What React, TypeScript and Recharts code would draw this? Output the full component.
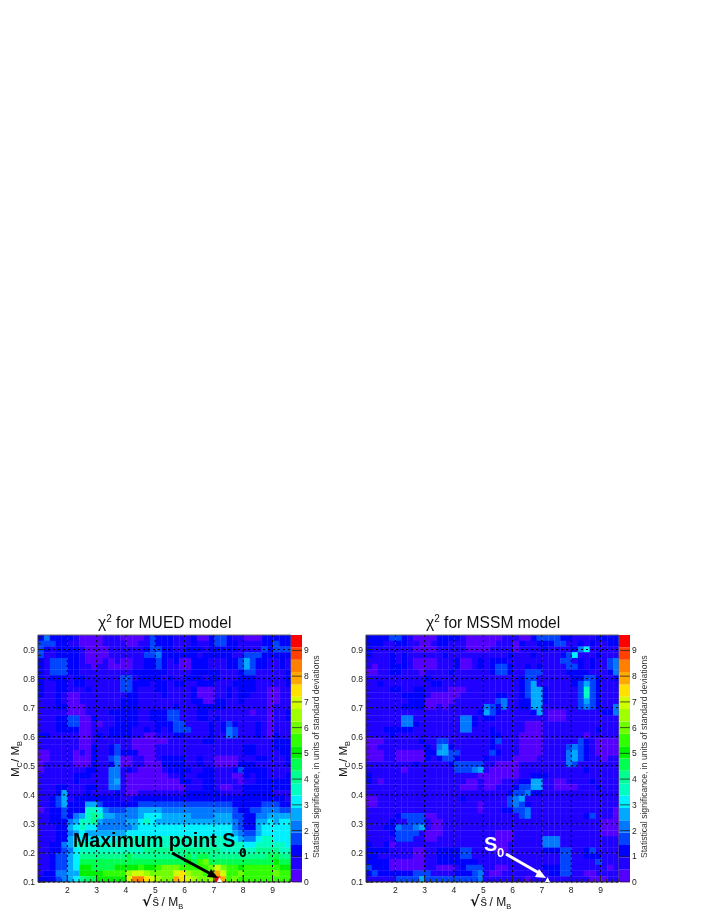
import { Bar, BarChart, ReferenceLine, Scatter, ScatterChart, XAxis, YAxis } from 'recharts'

const font = 'Liberation Sans'

// colour bands of the z scale, one per contour level
const bandColors = [
  '#5400ff', '#2000ff', '#0000ff', '#0044ff', '#0078ff', '#00a8ff', '#00f0ff', '#00ffc0', '#00ff90', '#00ff50',
  '#00f000', '#30ff00', '#70ff00', '#a0ff00', '#d0ff00', '#ffe000', '#ffa800', '#ff8000', '#ff4000', '#ff0000'
]
const bandStep = 0.48
const zTicks = [0, 1, 2, 3, 4, 5, 6, 7, 8, 9]

// contour level of each bin (base 36), top row first, 43 x 43
const muedLevels = [
  '2422221000011100001322211120023321100022222',
  '3332211000011110011322211121123322111122322',
  '3212222100001111112332211222122222111132333',
  '3112222100001111113342222221222221133322222',
  '2133322100010100112232120022211122353221121',
  '2133322110110000112232110022211122353221121',
  '2133322111111111222222111122222111233111112',
  '2122212211111133122221211222122111222111112',
  '2112212211111133222122122112221112222111112',
  '2112211121111133211122111120001121222110011',
  '2112100111111112211112111120001121221110011',
  '1112100111111122211111111122002211211110011',
  '1112200011111122211111121112222211111110111',
  '1111100011112222211222331112211111110110112',
  '1112233002111222211222331112212111111110112',
  '1112233001011222211122233111121232111210111',
  '1112222001112222112121233311121243111210111',
  '2211111001212222110011122111121143111210211',
  '1111111001111111000000111111221111111111222',
  '1111111002112311000011111111111111122111222',
  '0011110102112322200011111111111111122111122',
  '0011110002113400110012222112110000111221112',
  '0111110002112400110002222112110000222111112',
  '0111111122114412100001222211221112322221111',
  '1111112221114410000000112112221110021221112',
  '1111112111114510000000002211221111011222222',
  '1112211122114410000000000111221001122222222',
  '1112511121111210011111111222222111122222111',
  '1123512222222211222222222222222222222222221',
  '1123522255322222233333333333333332222233322',
  '0122322277643334455554444444444443223344433',
  '1122324578755444456665555544445553322445555',
  '1122245778544445567655555555555554322556566',
  '1112256766444444566666666666666664322566666',
  '1112245655555556666666666666666665433566666',
  '1112256666666677777777777777777766544677666',
  '1122457777777777777777777777777777766777776',
  '1122346777777777778888888888888777777888877',
  '1123356888888889888888888989988888888889988',
  '1123356999999999999999999a9bc99999999999a99',
  '1123356aa9999aaaabaabcccbbbbbcecbbabbbbbbaa',
  '1224455aaaabbbbdeedccccefdccbdgebbcbbbbbcbb',
  '2223456899aaaaaehhfedccgfedccdjgbcbbbbbbbbb'
]

const mssmLevels = [
  '2222332100002222100000011100233332211112222',
  '2221122110012211100000111021122233112121122',
  '2111111100001111100001111011112111124611111',
  '2111212111111211111111112111211112361112111',
  '1111212100001112001212221111111113312121134',
  '1011222100001112001212332112121111332121134',
  '0011221110111121111112332113331111222211124',
  '1111111111211111111111111123311111122332112',
  '1121111111122111111111111123511111123532111',
  '1111221122111100011111111123552111113732111',
  '1111112222100000111111221123552111113732111',
  '1111111222000001111111341122552111113532111',
  '1111112222001011111143241122551111113432114',
  '1111111111111111111253211111251000111111224',
  '1111114411111111442122111111111000111111111',
  '1111114421111111442111111110001111111111111',
  '1112222211111111441112111110001111111112111',
  '1111211111111111111112211100001111111011111',
  '0001111112113311111112311100001111113210000',
  '0011111111214521111112111100001111343210000',
  '0001100000225533111113211100001111453210000',
  '0001100000212332111121111000011111453211011',
  '1111111121111123333311000011111111431111111',
  '1111110111111113334510000011111111111211111',
  '2111111111111111111000000011222111111111111',
  '2101111111111111100100011122551100111121111',
  '1111111111111111000100111233551100001112111',
  '1111111111111111111111112334221111111111111',
  '0011111111111111211111113451111111111111111',
  '0011111111111111111011113432111111111111111',
  '1111111111111111111011122334111111111111110',
  '1111123333001111111111111134111111111231110',
  '1111211333100111111111111111111111111111000',
  '1112243345100111111111111111111111111111000',
  '1111233331000111111111000111111111111111000',
  '1111133311001111111111000111114441111111111',
  '2112011111111111111111001111114441111111111',
  '2222111100112222331111001111112223311231111',
  '2211111100112222331111111111111113311222111',
  '2222000000112222222111111111111113311113111',
  '3222000000110001233311001111112223311111101',
  '2322222233311112223410011111101223311001111',
  '1111133335333333333411111110111111111100011'
]

const binsX = 43
const binsY = 43
const xMin = 1
const xMax = 9.63
const yMin = 0.1
const yMax = 0.95
const zMax = 9.6

const plotW = 253
const plotH = 247

const xTicks = Array.from({ length: 43 }, (_, i) => Number((1.2 + i * 0.2).toFixed(1))).filter((v) => v < xMax)
const yTicks = Array.from({ length: 43 }, (_, i) => Number((0.1 + i * 0.02).toFixed(2))).filter((v) => v < yMax)
const xGrid = [2, 3, 4, 5, 6, 7, 8, 9]
const yGrid = [0.1, 0.2, 0.3, 0.4, 0.5, 0.6, 0.7, 0.8, 0.9]

const toCells = (rows: string[]) => {
  const out: { x: number; y: number; level: number }[] = []
  rows.forEach((row, r) => {
    for (let c = 0; c < binsX; c++) {
      out.push({
        x: xMin + ((xMax - xMin) / binsX) * (c + 0.5),
        y: yMax - ((yMax - yMin) / binsY) * (r + 0.5),
        level: parseInt(row[c] ?? row[row.length - 1], 36)
      })
    }
  })
  return out
}

const XTick = ({ x, y, payload }: any) => {
  const v = payload.value
  const major = Math.abs(v - Math.round(v)) < 1e-6
  return (
    <g>
      <line x1={x} x2={x} y1={y} y2={y - (major ? 7 : 3)} stroke="#222" />
      {major && (
        <text x={x} y={y + 11} textAnchor="middle" fontSize={8.5} fontFamily={font} fill="#222">
          {v}
        </text>
      )}
    </g>
  )
}

const YTick = ({ x, y, payload }: any) => {
  const v = payload.value
  const major = Math.abs(v * 10 - Math.round(v * 10)) < 1e-6
  return (
    <g>
      <line x1={x} x2={x + (major ? 7 : 3)} y1={y} y2={y} stroke="#222" />
      {major && (
        <text x={x - 3} y={y + 3} textAnchor="end" fontSize={8.5} fontFamily={font} fill="#222">
          {v.toFixed(1)}
        </text>
      )}
    </g>
  )
}

const ZTick = ({ x, y, payload }: any) => (
  <g>
    <line x1={x - 10} x2={x} y1={y} y2={y} stroke="#222" strokeOpacity={0.75} />
    <text x={x + 2} y={y + 3} fontSize={8.5} fontFamily={font} fill="#222">
      {payload.value}
    </text>
  </g>
)

const CellShape = (p: any) => {
  const w = plotW / binsX
  const h = plotH / binsY
  return <rect x={p.cx - w / 2} y={p.cy - h / 2} width={w + 0.3} height={h + 0.3} fill={bandColors[p.payload.level]} />
}

function Panel({ left, rows }: { left: number; rows: string[] }) {
  const cells = toCells(rows)
  const bandRow = [Object.fromEntries(bandColors.map((_, i) => ['b' + i, bandStep]))]
  const box = { position: 'absolute', left, top: 620 } as const
  return (
    <>
      <div style={box}>
        <ScatterChart width={plotW + 38} height={plotH + 50} margin={{ left: 38, top: 15, right: 0, bottom: 35 }}>
          <XAxis type="number" dataKey="x" domain={[xMin, xMax]} hide allowDataOverflow />
          <YAxis type="number" dataKey="y" domain={[yMin, yMax]} hide allowDataOverflow />
          <Scatter data={cells} dataKey="y" shape={CellShape} isAnimationActive={false} />
        </ScatterChart>
      </div>
      {/* axes and grid sit in a second chart so they stay above the cells */}
      <div style={box}>
        <ScatterChart width={plotW + 38} height={plotH + 50} margin={{ left: 0, top: 15, right: 0, bottom: 0 }}>
          <XAxis
            type="number"
            dataKey="x"
            domain={[xMin, xMax]}
            ticks={xTicks}
            interval={0}
            height={35}
            tickSize={0}
            tickMargin={0}
            tick={<XTick />}
            stroke="#333"
            allowDataOverflow
          />
          <YAxis
            type="number"
            dataKey="y"
            domain={[yMin, yMax]}
            ticks={yTicks}
            interval={0}
            width={38}
            tickSize={0}
            tickMargin={0}
            tick={<YTick />}
            stroke="#333"
            allowDataOverflow
          />
          <Scatter data={[]} isAnimationActive={false} />
          {xGrid.map((v) => (
            <ReferenceLine key={v} x={v} stroke="#000" strokeDasharray="2 3" />
          ))}
          {yGrid.map((v) => (
            <ReferenceLine key={v} y={v} stroke="#000" strokeDasharray="2 3" />
          ))}
          <ReferenceLine y={yMax} stroke="#666" />
          <ReferenceLine x={xMax} stroke="#666" />
        </ScatterChart>
      </div>
      <div style={{ position: 'absolute', left: left + 291, top: 620 }}>
        <BarChart
          width={40}
          height={plotH + 50}
          data={bandRow}
          barCategoryGap={0}
          margin={{ left: 0, top: 15, right: 0, bottom: 35 }}
        >
          <XAxis hide />
          {bandColors.map((c, i) => (
            <Bar key={i} dataKey={'b' + i} stackId="z" fill={c} isAnimationActive={false} />
          ))}
          <YAxis
            orientation="right"
            type="number"
            domain={[0, zMax]}
            ticks={zTicks}
            interval={0}
            width={29}
            tickSize={0}
            tickMargin={0}
            tick={<ZTick />}
            axisLine={false}
            allowDataOverflow
          />
        </BarChart>
      </div>
    </>
  )
}

function PanelText({ dx, title }: { dx: number; title: string }) {
  return (
    <g fontFamily={font} fill="#111">
      <text x={dx + 98} y={628} fontSize={15.6}>
        {'\u03c7'}
        <tspan fontSize={10} dy={-6}>
          2
        </tspan>
        <tspan dy={6}> {title}</tspan>
      </text>
      <g transform={`translate(${dx + 19},777) rotate(-90)`} fontSize={11.5}>
        <text>
          M
          <tspan fontSize={7.5} dy={3}>
            C
          </tspan>
          <tspan dy={-3}>/ M</tspan>
          <tspan fontSize={7.5} dy={3}>
            B
          </tspan>
        </text>
      </g>
      <text x={dx + 142} y={906} fontFamily="DejaVu Sans" fontWeight="bold" fontSize={14.5}>
        {'\u221a'}
      </text>
      <text x={dx + 152.5} y={906} fontSize={13}>
        {'\u015d'}
      </text>
      <text x={dx + 161.5} y={906} fontSize={12}>
        / M
        <tspan fontSize={7.5} dy={3}>
          B
        </tspan>
      </text>
      <g transform={`translate(${dx + 319},858) rotate(-90)`} fontSize={8.6} fill="#333">
        <text>Statistical significance, in units of standard deviations</text>
      </g>
    </g>
  )
}

export default function App() {
  return (
    <div style={{ position: 'absolute', left: 0, top: 0, width: 708, height: 917, background: '#fff', filter: 'blur(0.4px)' }}>
      <Panel left={0} rows={muedLevels} />
      <Panel left={328} rows={mssmLevels} />
      <svg width={708} height={917} style={{ position: 'absolute', left: 0, top: 0, pointerEvents: 'none' }}>
        <PanelText dx={0} title="for MUED model" />
        <PanelText dx={328} title="for MSSM model" />
        <text x={73} y={847} fontFamily={font} fontWeight="bold" fontSize={19.6} fill="#000">
          Maximum point S
        </text>
        <text x={239} y={857} fontFamily="DejaVu Sans Mono" fontWeight="bold" fontSize={13} fill="#000">
          0
        </text>
        <line x1={172} y1={853} x2={211} y2={874} stroke="#000" strokeWidth={3} />
        <polygon points="218,878 207,877 211,869" fill="#000" />
        <polygon points="219.5,877 217,882 222,882" fill="#fff" />
        <text x={484} y={851} fontFamily={font} fontWeight="bold" fontSize={20} fill="#fff">
          S
        </text>
        <text x={497} y={857} fontFamily={font} fontWeight="bold" fontSize={13} fill="#fff">
          0
        </text>
        <line x1={506} y1={854} x2={539} y2={873} stroke="#fff" strokeWidth={3} />
        <polygon points="546,878 535,877 539,869" fill="#fff" />
        <polygon points="547.5,877 545,882 550,882" fill="#fff" />
      </svg>
    </div>
  )
}
